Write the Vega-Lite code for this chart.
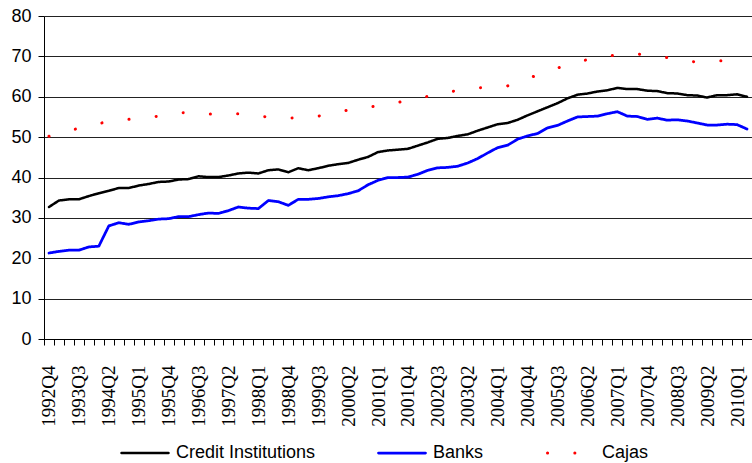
{
  "$schema": "https://vega.github.io/schema/vega-lite/v6.json",
  "width": 708,
  "height": 323,
  "autosize": {"type": "none"},
  "padding": {"left": 44, "top": 16, "right": 0, "bottom": 124},
  "background": "white",
  "config": {
    "view": {"stroke": null},
    "font": "Liberation Sans"
  },
  "data": {
    "values": [
      {"q":"1992Q4","Credit Institutions":32.7,"Banks":21.3,"Cajas":50.2},
      {"q":"1993Q1","Credit Institutions":34.3,"Banks":21.7,"Cajas":50.9},
      {"q":"1993Q2","Credit Institutions":34.6,"Banks":22.0,"Cajas":51.6},
      {"q":"1993Q3","Credit Institutions":34.6,"Banks":22.0,"Cajas":52.2},
      {"q":"1993Q4","Credit Institutions":35.4,"Banks":22.8,"Cajas":52.8},
      {"q":"1994Q1","Credit Institutions":36.1,"Banks":23.0,"Cajas":53.4},
      {"q":"1994Q2","Credit Institutions":36.7,"Banks":28.0,"Cajas":53.8},
      {"q":"1994Q3","Credit Institutions":37.4,"Banks":28.8,"Cajas":54.1},
      {"q":"1994Q4","Credit Institutions":37.4,"Banks":28.4,"Cajas":54.4},
      {"q":"1995Q1","Credit Institutions":38.0,"Banks":29.0,"Cajas":54.6},
      {"q":"1995Q2","Credit Institutions":38.4,"Banks":29.3,"Cajas":54.9},
      {"q":"1995Q3","Credit Institutions":38.9,"Banks":29.7,"Cajas":55.2},
      {"q":"1995Q4","Credit Institutions":39.0,"Banks":29.8,"Cajas":55.6},
      {"q":"1996Q1","Credit Institutions":39.5,"Banks":30.3,"Cajas":56.0},
      {"q":"1996Q2","Credit Institutions":39.6,"Banks":30.3,"Cajas":56.1},
      {"q":"1996Q3","Credit Institutions":40.3,"Banks":30.8,"Cajas":55.9},
      {"q":"1996Q4","Credit Institutions":40.1,"Banks":31.2,"Cajas":55.7},
      {"q":"1997Q1","Credit Institutions":40.1,"Banks":31.1,"Cajas":55.7},
      {"q":"1997Q2","Credit Institutions":40.5,"Banks":31.8,"Cajas":55.8},
      {"q":"1997Q3","Credit Institutions":41.0,"Banks":32.7,"Cajas":55.8},
      {"q":"1997Q4","Credit Institutions":41.2,"Banks":32.4,"Cajas":55.5},
      {"q":"1998Q1","Credit Institutions":41.0,"Banks":32.3,"Cajas":55.2},
      {"q":"1998Q2","Credit Institutions":41.8,"Banks":34.3,"Cajas":55.0},
      {"q":"1998Q3","Credit Institutions":42.0,"Banks":34.0,"Cajas":54.8},
      {"q":"1998Q4","Credit Institutions":41.3,"Banks":33.1,"Cajas":54.7},
      {"q":"1999Q1","Credit Institutions":42.3,"Banks":34.6,"Cajas":54.8},
      {"q":"1999Q2","Credit Institutions":41.8,"Banks":34.6,"Cajas":55.0},
      {"q":"1999Q3","Credit Institutions":42.3,"Banks":34.8,"Cajas":55.2},
      {"q":"1999Q4","Credit Institutions":42.9,"Banks":35.2,"Cajas":55.7},
      {"q":"2000Q1","Credit Institutions":43.3,"Banks":35.5,"Cajas":56.2},
      {"q":"2000Q2","Credit Institutions":43.6,"Banks":36.0,"Cajas":56.7},
      {"q":"2000Q3","Credit Institutions":44.4,"Banks":36.7,"Cajas":57.1},
      {"q":"2000Q4","Credit Institutions":45.1,"Banks":38.2,"Cajas":57.4},
      {"q":"2001Q1","Credit Institutions":46.3,"Banks":39.3,"Cajas":57.8},
      {"q":"2001Q2","Credit Institutions":46.7,"Banks":40.0,"Cajas":58.2},
      {"q":"2001Q3","Credit Institutions":46.9,"Banks":40.0,"Cajas":58.6},
      {"q":"2001Q4","Credit Institutions":47.1,"Banks":40.1,"Cajas":59.1},
      {"q":"2002Q1","Credit Institutions":47.9,"Banks":40.8,"Cajas":59.6},
      {"q":"2002Q2","Credit Institutions":48.7,"Banks":41.8,"Cajas":60.1},
      {"q":"2002Q3","Credit Institutions":49.6,"Banks":42.4,"Cajas":60.6},
      {"q":"2002Q4","Credit Institutions":49.8,"Banks":42.5,"Cajas":61.1},
      {"q":"2003Q1","Credit Institutions":50.3,"Banks":42.8,"Cajas":61.6},
      {"q":"2003Q2","Credit Institutions":50.7,"Banks":43.6,"Cajas":61.9},
      {"q":"2003Q3","Credit Institutions":51.6,"Banks":44.7,"Cajas":62.2},
      {"q":"2003Q4","Credit Institutions":52.4,"Banks":46.1,"Cajas":62.3},
      {"q":"2004Q1","Credit Institutions":53.2,"Banks":47.4,"Cajas":62.4},
      {"q":"2004Q2","Credit Institutions":53.5,"Banks":48.0,"Cajas":62.7},
      {"q":"2004Q3","Credit Institutions":54.3,"Banks":49.5,"Cajas":63.6},
      {"q":"2004Q4","Credit Institutions":55.4,"Banks":50.3,"Cajas":64.5},
      {"q":"2005Q1","Credit Institutions":56.4,"Banks":50.9,"Cajas":65.4},
      {"q":"2005Q2","Credit Institutions":57.4,"Banks":52.3,"Cajas":66.3},
      {"q":"2005Q3","Credit Institutions":58.4,"Banks":52.9,"Cajas":67.1},
      {"q":"2005Q4","Credit Institutions":59.6,"Banks":54.0,"Cajas":67.9},
      {"q":"2006Q1","Credit Institutions":60.5,"Banks":55.0,"Cajas":68.6},
      {"q":"2006Q2","Credit Institutions":60.8,"Banks":55.1,"Cajas":69.2},
      {"q":"2006Q3","Credit Institutions":61.3,"Banks":55.2,"Cajas":69.7},
      {"q":"2006Q4","Credit Institutions":61.6,"Banks":55.8,"Cajas":70.1},
      {"q":"2007Q1","Credit Institutions":62.2,"Banks":56.3,"Cajas":70.3},
      {"q":"2007Q2","Credit Institutions":61.9,"Banks":55.2,"Cajas":70.5},
      {"q":"2007Q3","Credit Institutions":61.9,"Banks":55.1,"Cajas":70.6},
      {"q":"2007Q4","Credit Institutions":61.5,"Banks":54.4,"Cajas":70.3},
      {"q":"2008Q1","Credit Institutions":61.4,"Banks":54.7,"Cajas":70.0},
      {"q":"2008Q2","Credit Institutions":60.9,"Banks":54.2,"Cajas":69.7},
      {"q":"2008Q3","Credit Institutions":60.8,"Banks":54.3,"Cajas":69.2},
      {"q":"2008Q4","Credit Institutions":60.4,"Banks":54.0,"Cajas":68.8},
      {"q":"2009Q1","Credit Institutions":60.3,"Banks":53.5,"Cajas":68.6},
      {"q":"2009Q2","Credit Institutions":59.8,"Banks":53.0,"Cajas":68.7},
      {"q":"2009Q3","Credit Institutions":60.4,"Banks":53.0,"Cajas":68.9},
      {"q":"2009Q4","Credit Institutions":60.4,"Banks":53.2,"Cajas":68.9},
      {"q":"2010Q1","Credit Institutions":60.6,"Banks":53.1,"Cajas":68.9},
      {"q":"2010Q2","Credit Institutions":60.0,"Banks":52.0,"Cajas":68.9}
    ]
  },
  "transform": [
    {"fold": ["Credit Institutions", "Banks", "Cajas"], "as": ["series", "value"]}
  ],
  "mark": {"type": "line", "strokeCap": "round", "strokeJoin": "round"},
  "encoding": {
    "x": {
      "field": "q",
      "type": "ordinal",
      "scale": {"type": "band", "paddingInner": 0, "paddingOuter": 0},
      "axis": {
        "title": null,
        "tickBand": "extent",
        "tickSize": 6,
        "tickColor": "#000000",
        "domainColor": "#000000",
        "labelAngle": 270,
        "labelPadding": 20,
        "labelFont": "Liberation Sans Narrow",
        "labelFontSize": 19,
        "labelColor": "#000000",
        "labelExpr": "((toNumber(substring(datum.value,0,4))-1992)*4 + toNumber(substring(datum.value,5,6)) - 4) % 3 == 0 ? datum.value : ''",
        "grid": false
      }
    },
    "y": {
      "field": "value",
      "type": "quantitative",
      "scale": {"domain": [0, 80], "nice": false},
      "axis": {
        "title": null,
        "values": [0, 10, 20, 30, 40, 50, 60, 70, 80],
        "grid": true,
        "gridColor": "#222222",
        "gridWidth": 1,
        "gridOpacity": 1,
        "tickSize": 6,
        "tickColor": "#000000",
        "domainColor": "#000000",
        "labelPadding": 7,
        "labelFont": "Liberation Sans",
        "labelFontSize": 18,
        "labelColor": "#000000"
      }
    },
    "color": {
      "field": "series",
      "type": "nominal",
      "scale": {"domain": ["Credit Institutions", "Banks", "Cajas"], "range": ["#000000", "#0000ff", "#ff0000"]},
      "legend": {
        "title": null,
        "orient": "none",
        "legendX": 76,
        "legendY": 412,
        "direction": "horizontal",
        "columns": 3,
        "columnPadding": 57,
        "padding": 0,
        "symbolType": "stroke",
        "symbolSize": 2209,
        "labelOffset": 6,
        "labelFont": "Liberation Sans",
        "labelFontSize": 18,
        "labelColor": "#000000",
        "labelLimit": 400,
        "encode": {"symbols": {"update": {"strokeCap": {"value": "round"}}}}
      }
    },
    "strokeDash": {
      "field": "series",
      "type": "nominal",
      "scale": {"domain": ["Credit Institutions", "Banks", "Cajas"], "range": [[1, 0], [1, 0], [0.1, 27.2]]},
      "legend": null
    },
    "strokeWidth": {
      "field": "series",
      "type": "nominal",
      "scale": {"domain": ["Credit Institutions", "Banks", "Cajas"], "range": [2.5, 3, 4]},
      "legend": null
    }
  }
}
